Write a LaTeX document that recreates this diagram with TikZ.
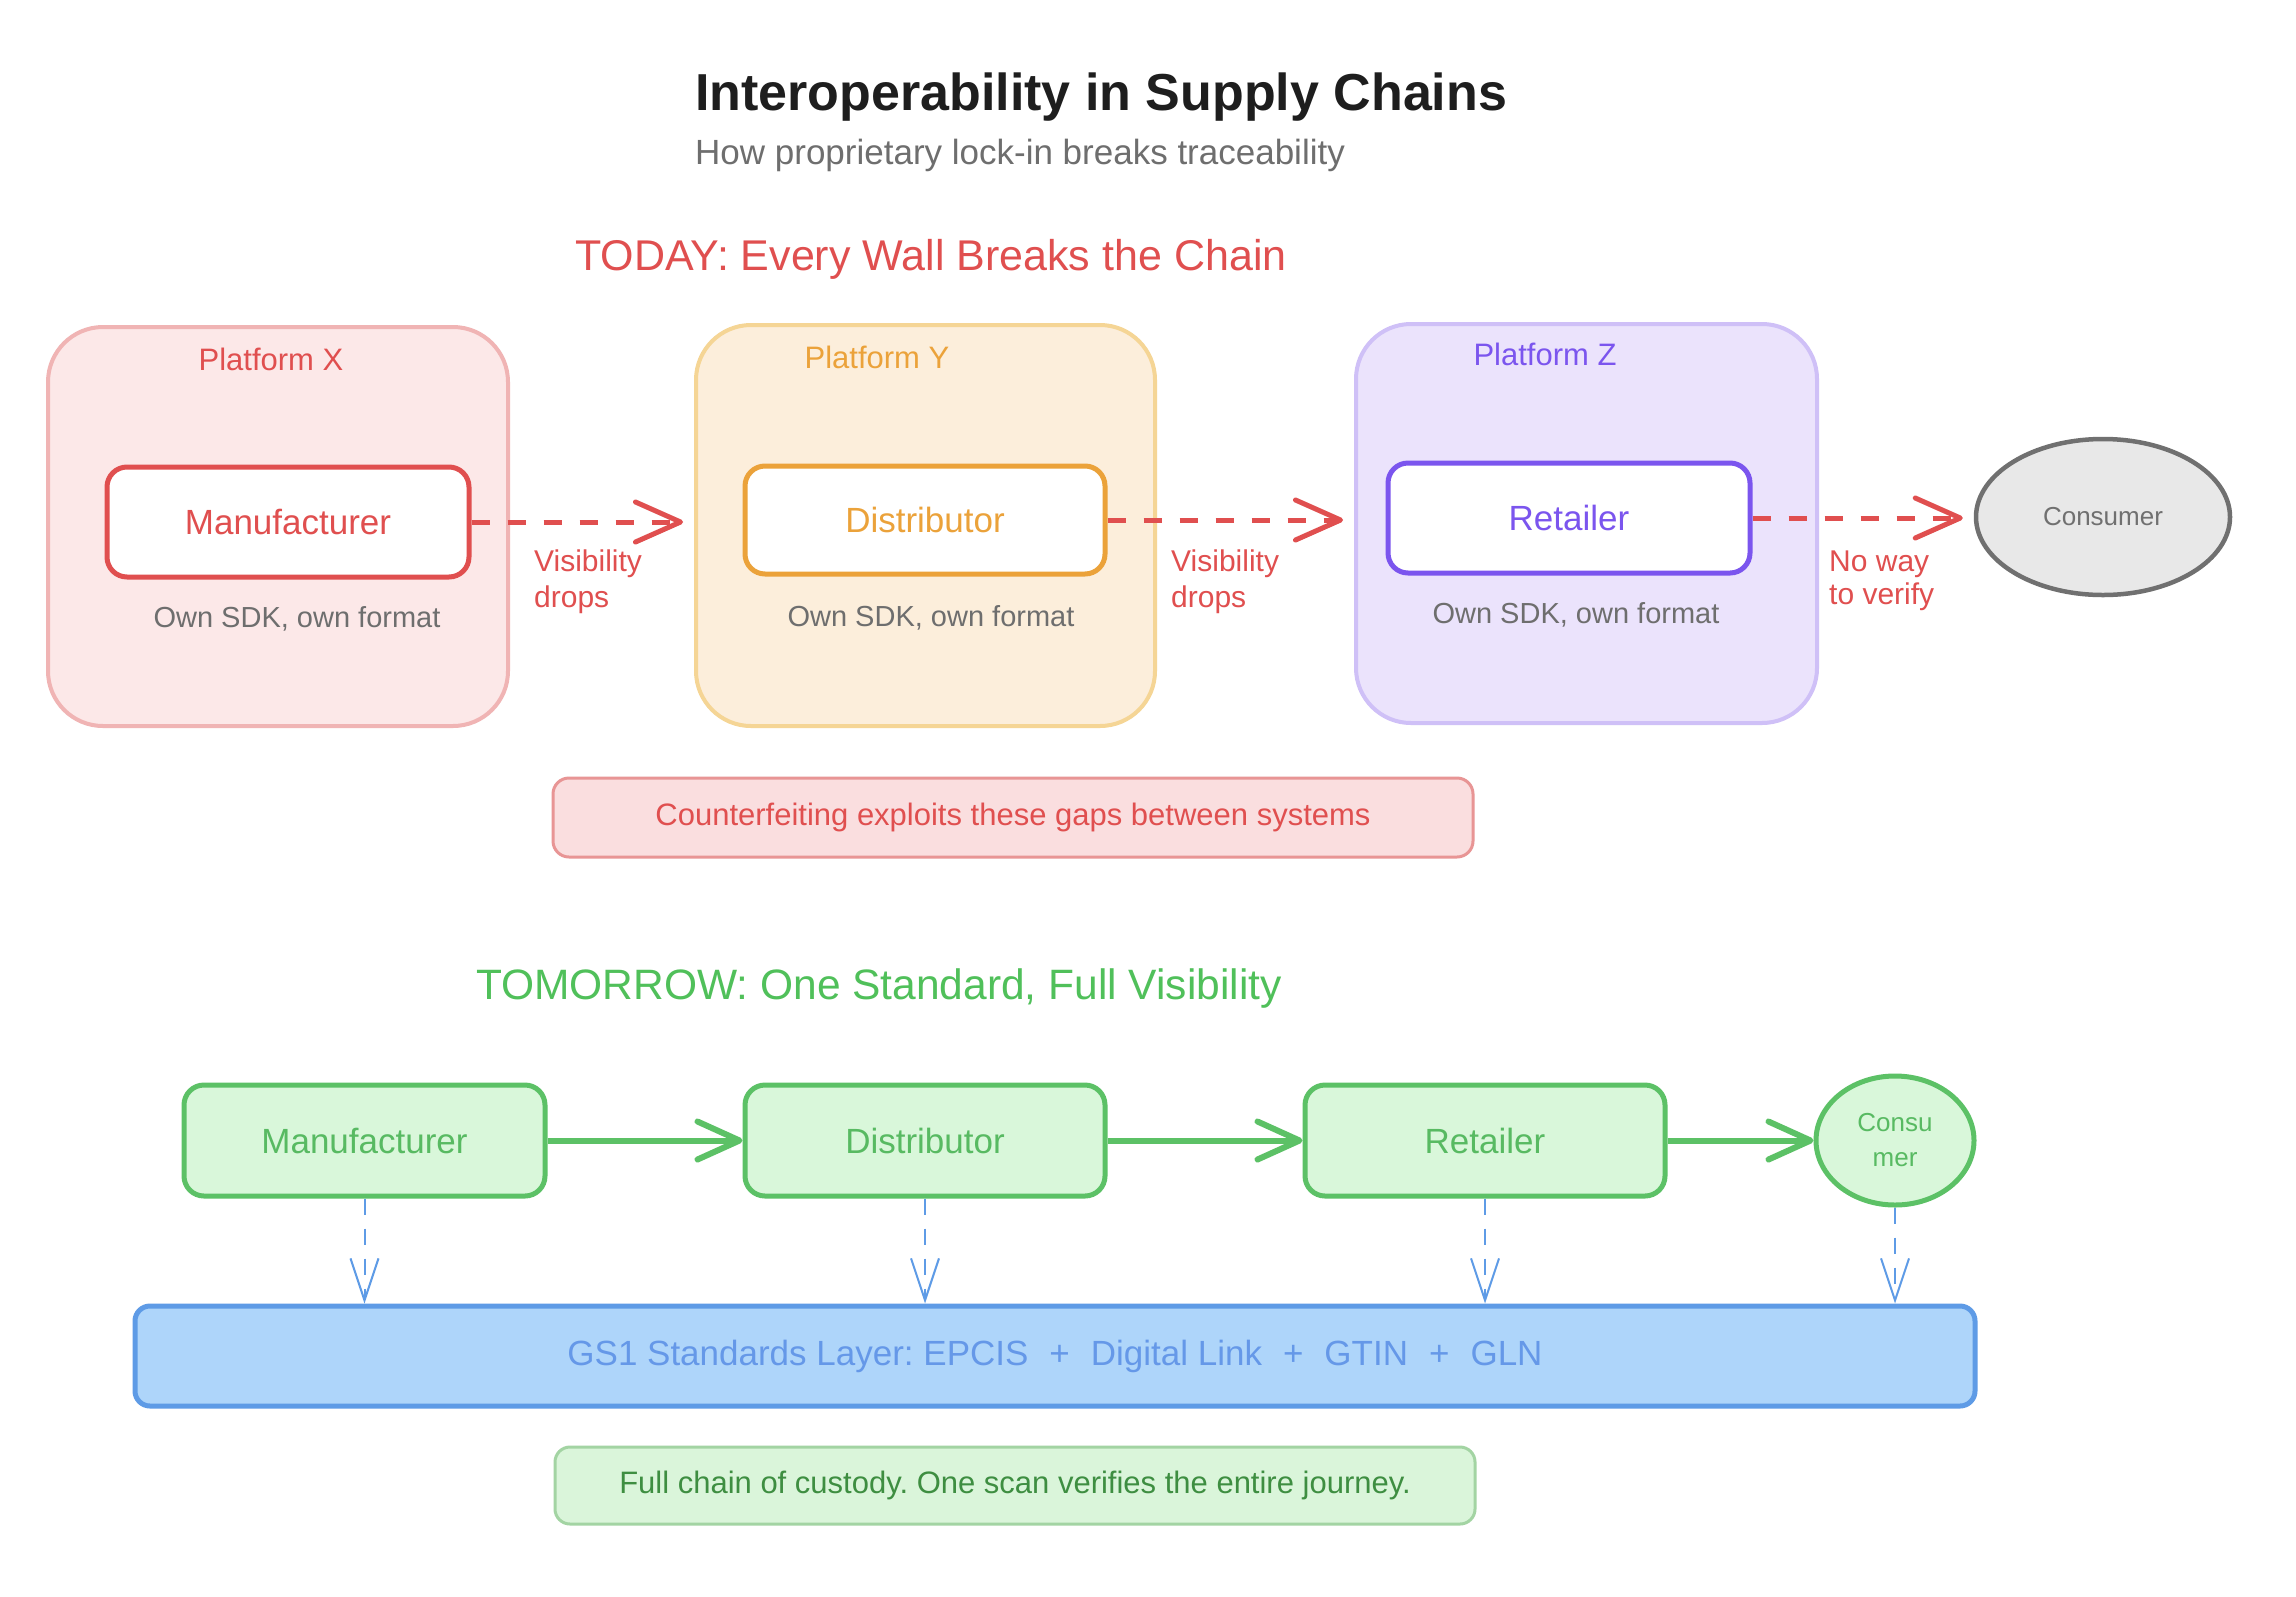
\documentclass[tikz,border=0pt]{standalone}
\usepackage{fontspec}
\setmainfont{Liberation Sans}
\usetikzlibrary{arrows.meta,shapes.geometric,calc}
\definecolor{ink}{HTML}{1E1E1E}
\definecolor{graytxt}{HTML}{6E6E6E}
\definecolor{redc}{HTML}{E04F4F}
\definecolor{greenc}{HTML}{50C05A}
\definecolor{pxfill}{HTML}{FCE8E8}
\definecolor{pxline}{HTML}{F0B4B4}
\definecolor{pyfill}{HTML}{FCEEDB}
\definecolor{pyline}{HTML}{F5D595}
\definecolor{orangec}{HTML}{EBA23A}
\definecolor{pzfill}{HTML}{EBE3FC}
\definecolor{pzline}{HTML}{CFC0F7}
\definecolor{violetc}{HTML}{7B55EE}
\definecolor{consfill}{HTML}{E8E8E8}
\definecolor{consline}{HTML}{707070}
\definecolor{cffill}{HTML}{FADEDF}
\definecolor{cfline}{HTML}{E89595}
\definecolor{gnfill}{HTML}{D9F7DA}
\definecolor{gnline}{HTML}{5CC166}
\definecolor{gntxt}{HTML}{58BA62}
\definecolor{gsfill}{HTML}{AED5FA}
\definecolor{gsline}{HTML}{5E9BE6}
\definecolor{gstxt}{HTML}{6598E8}
\definecolor{fcfill}{HTML}{DAF5DA}
\definecolor{fcline}{HTML}{A3D4A3}
\definecolor{fctxt}{HTML}{3E8E41}
\newcommand\myfs[2]{\fontsize{#1}{#2}\selectfont}
\frenchspacing
\tikzset{
  plat/.style={rectangle, rounded corners=55pt, line width=4pt, inner sep=0pt},
  inbox/.style={rectangle, rounded corners=20pt, line width=5pt, fill=white, inner sep=0pt, font=\myfs{35}{40}},
  gnbox/.style={rectangle, rounded corners=20pt, line width=5pt, fill=gnfill, draw=gnline, text=gntxt, inner sep=0pt, font=\myfs{35}{40}},
  lbl/.style={inner sep=0pt},
  redarrow/.style={draw=redc, line width=5pt, dash pattern=on 18pt off 18pt, -{Straight Barb[length=45pt,width=40pt,round]}, shorten >=11pt},
  gnarrow/.style={draw=gnline, line width=6pt, -{Straight Barb[length=42pt,width=38pt,round]}},
  bluearrow/.style={draw=gsline, line width=2pt, dash pattern=on 16pt off 14pt, -{Straight Barb[length=42pt,width=28pt]}},
}
\begin{document}
\begin{tikzpicture}[x=1pt,y=-1pt]
\fill[white] (0,0) rectangle (2296,1596);
\useasboundingbox (0,0) rectangle (2296,1596);

% titles
\node[lbl, anchor=west, text=ink, font=\bfseries\myfs{52}{60}] (title) at (695,97) {Interoperability in Supply Chains};
\node[lbl, anchor=west, text=graytxt, font=\myfs{35}{40}] (subtitle) at (695,155) {How proprietary lock-in breaks traceability};
\node[lbl, anchor=west, text=redc, font=\myfs{43}{48}] (today) at (575,259) {TODAY: Every Wall Breaks the Chain};

% platforms
\node[plat, fill=pxfill, draw=pxline, minimum width=460pt, minimum height=399pt] (px) at (278,526.5) {};
\node[plat, fill=pyfill, draw=pyline, minimum width=459pt, minimum height=401pt] (py) at (925.5,525.5) {};
\node[plat, fill=pzfill, draw=pzline, minimum width=461pt, minimum height=399pt] (pz) at (1586.5,523.5) {};
\node[lbl, text=redc, font=\myfs{31}{36}] (pxl) at (271,359) {Platform X};
\node[lbl, text=orangec, font=\myfs{31}{36}] (pyl) at (877,357) {Platform Y};
\node[lbl, text=violetc, font=\myfs{31}{36}] (pzl) at (1545,354) {Platform Z};

\node[inbox, draw=redc, text=redc, minimum width=362pt, minimum height=110pt] (m1) at (288,522) {Manufacturer};
\node[inbox, draw=orangec, text=orangec, minimum width=360pt, minimum height=108pt] (d1) at (925,520) {Distributor};
\node[inbox, draw=violetc, text=violetc, minimum width=362pt, minimum height=110pt] (r1) at (1569,518) {Retailer};
\node[ellipse, line width=4.5pt, draw=consline, fill=consfill, text=consline, minimum width=254pt, minimum height=156pt, inner sep=0pt, font=\myfs{26}{30}] (c1) at (2103,517) {Consumer};

\node[lbl, text=graytxt, font=\myfs{29}{34}] (sdkx) at (297,619) {Own SDK, own format};
\node[lbl, text=graytxt, font=\myfs{29}{34}] (sdky) at (931,618) {Own SDK, own format};
\node[lbl, text=graytxt, font=\myfs{29}{34}] (sdkz) at (1576,615) {Own SDK, own format};

% red dashed arrows
\draw[redarrow] (m1.east) -- (m1.east -| py.west);
\draw[redarrow] (d1.east) -- (d1.east -| pz.west);
\draw[redarrow] (r1.east) -- (r1.east -| c1.west);
\node[lbl, anchor=west, align=left, text=redc, font=\myfs{30}{36}] (vd1) at (534,582) {Visibility\\drops};
\node[lbl, anchor=west, align=left, text=redc, font=\myfs{30}{36}] (vd2) at (1171,582) {Visibility\\drops};
\node[lbl, anchor=west, align=left, text=redc, font=\myfs{30}{33}] (nw) at (1829,581) {No way\\to verify};

% counterfeit box
\node[rectangle, rounded corners=16pt, line width=3pt, draw=cfline, fill=cffill, text=redc, minimum width=920pt, minimum height=79pt, inner sep=0pt, font=\myfs{31}{36}] (cf) at (1013,817.5) {Counterfeiting exploits these gaps between systems};

% tomorrow
\node[lbl, anchor=west, text=greenc, font=\myfs{42.5}{48}] (tomorrow) at (476,988) {TOMORROW: One Standard, Full Visibility};

\node[gnbox, minimum width=361pt, minimum height=111pt] (m2) at (364.5,1140.5) {Manufacturer};
\node[gnbox, minimum width=360pt, minimum height=111pt] (d2) at (925,1140.5) {Distributor};
\node[gnbox, minimum width=360pt, minimum height=111pt] (r2) at (1485,1140.5) {Retailer};
\node[ellipse, line width=5pt, draw=gnline, fill=gnfill, text=gntxt, minimum width=158pt, minimum height=129pt, inner sep=0pt, align=center, font=\myfs{26}{35}] (c2) at (1895,1140.5) {Consu\\mer};

\draw[gnarrow] (m2.east) -- (d2.west);
\draw[gnarrow] (d2.east) -- (r2.west);
\draw[gnarrow] (r2.east) -- (c2.west);

\node[rectangle, rounded corners=15pt, line width=5pt, draw=gsline, fill=gsfill, text=gstxt, minimum width=1840pt, minimum height=100pt, inner sep=0pt, font=\myfs{35}{40}] (gs) at (1055,1356) {GS1 Standards Layer: EPCIS\hspace{0.6em}+\hspace{0.6em}Digital Link\hspace{0.6em}+\hspace{0.6em}GTIN\hspace{0.6em}+\hspace{0.6em}GLN};

\draw[bluearrow] (m2.south) -- (m2.south |- gs.north);
\draw[bluearrow] (d2.south) -- (d2.south |- gs.north);
\draw[bluearrow] (r2.south) -- (r2.south |- gs.north);
\draw[bluearrow] (c2.south) -- (c2.south |- gs.north);

\node[rectangle, rounded corners=15pt, line width=3pt, draw=fcline, fill=fcfill, text=fctxt, minimum width=920pt, minimum height=77pt, inner sep=0pt, font=\myfs{31}{36}] (fc) at (1015,1485.5) {Full chain of custody. One scan verifies the entire journey.};
\end{tikzpicture}
\end{document}
